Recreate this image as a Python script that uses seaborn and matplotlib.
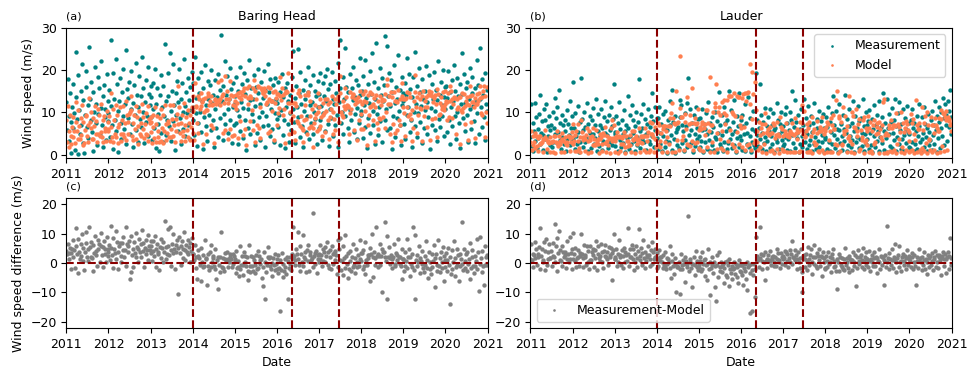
import numpy as np
import pandas as pd
import matplotlib
matplotlib.use("Agg")
import matplotlib.pyplot as plt
import matplotlib.dates as mdates
import seaborn as sns

sns.set_style("ticks", {"axes.edgecolor": "black", "xtick.color": "black", "ytick.color": "black",
                        "text.color": "black", "axes.labelcolor": "black"})
plt.rcParams["font.family"] = ["DejaVu Sans"]
plt.rcParams["font.size"] = 9

TEAL = "#008080"
CORAL = "#FF7F50"
GREY = "#808080"
LINE = "#8B0000"

years = list(range(2011, 2021))
break_dates = ["2014-01-01", "2016-05-10", "2017-06-24"]

# Baring Head, wind speed (m/s), ~60 readings per year
bh_meas = [
    [12.4, 5.8, 17.9, 9.1, 3.2, 14.6, 7.7, 0.4, 11.3, 16.8, 6.2, 9.9, 1.1, 13.7, 24.3, 8.5, 0.2, 18.9, 10.6, 4.9, 15.2, 7.1, 21.4, 2.8, 12.9, 0.3, 9.4, 16.1, 19.8, 6.6, 11.8, 3.9, 25.6, 13.1, 8.2, 17.3, 5.4, 0.9, 14.8, 10.2, 20.7, 7.5, 12.1, 2.2, 18.4, 9.7, 15.9, 4.6, 11.1, 22.3, 6.9, 13.8, 1.7, 16.5, 8.8, 10.9, 3.5, 19.2, 12.6, 7.9],
    [9.8, 15.3, 4.2, 27.1, 11.6, 6.9, 19.4, 1.3, 13.2, 8.1, 22.6, 5.5, 16.7, 10.3, 0.6, 12.8, 18.1, 7.4, 3.6, 14.9, 9.2, 20.3, 6.1, 11.9, 24.8, 2.4, 15.6, 8.7, 13.5, 17.2, 4.8, 10.7, 19.9, 7.3, 12.2, 1.9, 16.4, 9.5, 21.7, 5.9, 14.1, 11.4, 3.1, 18.6, 8.4, 13.9, 6.5, 23.2, 10.1, 15.8, 2.7, 12.5, 17.7, 7.8, 9.1, 20.9, 4.4, 14.3, 11.7, 16.2],
    [8.9, 13.6, 3.4, 17.1, 10.8, 6.3, 20.4, 1.5, 12.1, 15.7, 7.2, 9.6, 0.8, 14.2, 18.8, 5.1, 11.3, 2.9, 16.3, 9.1, 26.2, 12.7, 4.7, 8.3, 19.3, 13.8, 6.8, 24.1, 10.4, 3.3, 15.1, 7.9, 21.6, 11.8, 1.2, 14.6, 9.3, 17.5, 5.6, 12.4, 20.2, 8.6, 13.1, 2.5, 16.9, 10.2, 6.1, 22.8, 11.5, 4.3, 14.9, 9.8, 18.2, 7.1, 12.9, 3.8, 16.1, 10.6, 19.7, 8.2],
    [11.2, 16.9, 4.6, 23.1, 9.8, 13.4, 2.1, 18.2, 7.6, 14.7, 10.1, 5.3, 19.6, 12.8, 1.4, 15.9, 8.9, 21.3, 6.7, 11.7, 3.2, 17.4, 13.1, 9.3, 16.6, 5.8, 20.1, 12.3, 8.1, 14.2, 1.9, 10.7, 17.8, 6.4, 13.6, 19.1, 4.1, 11.9, 15.3, 8.6, 28.4, 12.6, 3.5, 16.2, 9.7, 22.1, 7.2, 14.1, 18.7, 10.9, 5.1, 13.3, 20.6, 8.2, 15.6, 2.8, 11.4, 17.1, 6.9, 12.2],
    [13.9, 7.4, 18.3, 10.5, 2.6, 15.1, 9.2, 20.8, 5.7, 12.4, 16.7, 3.9, 11.1, 19.4, 8.3, 14.4, 1.2, 17.6, 10.8, 6.2, 22.4, 12.9, 4.8, 15.8, 9.6, 13.2, 7.9, 18.9, 2.3, 11.6, 16.1, 5.2, 14.7, 20.3, 8.8, 12.1, 3.4, 17.2, 10.2, 6.8, 13.5, 19.8, 1.7, 15.4, 9.1, 11.9, 21.6, 7.1, 14.9, 4.5, 17.9, 10.7, 6.1, 12.7, 16.4, 2.9, 9.9, 18.1, 13.1, 8.4],
    [12.3, 6.5, 17.2, 9.4, 2.2, 14.8, 10.6, 19.1, 4.7, 13.7, 8.1, 15.9, 1.6, 11.4, 16.9, 7.3, 12.8, 3.1, 9.8, 14.1, 5.9, 18.4, 10.9, 24.6, 7.7, 13.4, 2.7, 16.3, 11.2, 25.1, 8.9, 14.6, 4.2, 19.7, 12.1, 6.8, 15.4, 1.9, 10.4, 17.8, 13.2, 5.4, 9.2, 20.9, 14.9, 3.6, 11.7, 16.6, 7.6, 12.5, 18.9, 4.9, 10.1, 15.1, 8.4, 13.8, 2.4, 17.4, 11.3, 6.3],
    [14.3, 8.2, 19.4, 11.6, 3.4, 17.1, 9.9, 13.8, 18.6, 5.6, 12.7, 20.2, 7.3, 15.5, 2.1, 10.8, 16.8, 8.7, 19.7, 13.1, 4.4, 11.9, 17.4, 6.9, 14.6, 9.3, 21.8, 1.8, 12.4, 27.2, 15.7, 7.6, 10.2, 18.3, 4.9, 13.3, 25.3, 9.1, 16.1, 11.4, 6.2, 14.9, 2.9, 19.1, 10.6, 8.1, 15.8, 12.9, 20.7, 5.3, 13.6, 9.6, 17.7, 3.8, 11.1, 16.4, 7.4, 14.2, 22.9, 10.3],
    [9.4, 15.2, 3.9, 18.7, 11.8, 6.6, 22.4, 13.5, 1.5, 16.8, 8.7, 12.2, 19.9, 5.1, 14.4, 24.2, 10.3, 7.1, 17.3, 2.6, 13.1, 26.4, 9.7, 15.9, 4.6, 11.2, 20.6, 7.9, 14.1, 18.2, 3.1, 12.6, 16.5, 28.1, 8.3, 10.9, 25.7, 5.8, 13.9, 19.3, 11.5, 6.4, 17.6, 1.3, 14.8, 9.2, 21.2, 12.3, 4.2, 16.1, 8.6, 13.3, 23.6, 10.4, 6.9, 15.4, 2.3, 18.4, 11.7, 14.6],
    [12.8, 7.3, 17.1, 3.6, 14.2, 22.9, 9.5, 11.3, 19.2, 5.4, 15.6, 8.1, 13.7, 1.9, 18.4, 10.2, 6.7, 24.4, 12.1, 16.3, 4.1, 9.8, 20.5, 14.9, 7.7, 11.6, 2.8, 17.9, 13.3, 6.2, 15.1, 10.6, 21.1, 4.8, 12.4, 8.9, 18.8, 14.5, 1.4, 11.1, 16.7, 7.1, 13.1, 19.6, 5.9, 10.4, 15.3, 3.3, 12.9, 22.2, 8.4, 14.1, 6.6, 17.3, 11.8, 9.2, 20.1, 4.5, 13.6, 16.1],
    [10.7, 16.2, 5.3, 13.4, 19.8, 8.2, 2.4, 14.9, 11.3, 17.6, 6.8, 12.6, 21.3, 9.1, 15.2, 3.7, 18.1, 10.1, 13.8, 7.4, 16.8, 1.6, 11.9, 24.1, 14.4, 8.7, 19.1, 5.6, 12.2, 15.7, 9.4, 17.2, 3.1, 13.1, 20.6, 10.8, 6.1, 14.6, 18.5, 11.6, 7.9, 15.9, 2.8, 12.7, 22.4, 9.9, 16.6, 4.9, 13.3, 25.2, 11.4, 6.5, 17.9, 14.1, 8.8, 19.4, 3.4, 12.1, 15.4, 10.3],
]
bh_model = [
    [8.3, 2.9, 11.6, 5.7, 1.7, 9.4, 4.4, 2.5, 6.5, 8.9, 4.1, 5.5, 2.7, 7.8, 12.5, 5.5, 3.6, 10.6, 6.7, 3.7, 8.6, 4.7, 11.7, 2.2, 7.8, 2.8, 5.8, 9.2, 9.4, 4.4, 7.1, 3.1, 13.5, 7.8, 6.3, 10.1, 3.8, 3.6, 8.7, 6.7, 11.6, 4.9, 7.9, 3.1, 10.7, 4.8, 9.5, 4.3, 5.3, 12.1, 4.1, 8.3, 3.1, 9.1, 5.7, 6.3, 3.3, 10.4, 7.7, 5.6],
    [6.1, 9.1, 3.3, 14.7, 6.5, 4.2, 10.8, 3.1, 8.3, 4.8, 11.7, 4.1, 9.5, 6.5, 2.8, 7.2, 11.2, 4.9, 3.2, 8.2, 4.9, 11.5, 4.2, 7.4, 12.6, 3.5, 9.3, 4.8, 7.8, 9.6, 10.1, 13.9, 10.6, 4.5, 7.6, 3.4, 9.3, 6.1, 11.6, 3.7, 8.8, 6.7, 2.6, 10.4, 4.8, 7.5, 4.4, 11.9, 6.0, 9.0, 3.9, 7.3, 9.8, 4.8, 4.7, 11.5, 3.3, 8.4, 7.4, 8.9],
    [5.4, 7.8, 2.7, 9.5, 6.6, 3.9, 11.3, 2.9, 7.3, 9.2, 4.1, 5.7, 3.1, 8.7, 10.7, 3.3, 6.3, 2.7, 9.3, 5.5, 11.8, 7.3, 3.4, 5.1, 7.6, 7.9, 4.2, 11.8, 6.0, 4.2, 8.5, 4.5, 11.8, 6.9, 3.1, 8.4, 5.6, 9.7, 16.2, 7.3, 11.3, 5.1, 7.5, 3.3, 9.5, 5.5, 4.5, 12.2, 7.0, 3.3, 8.8, 5.9, 10.5, 4.2, 7.5, 3.4, 9.3, 6.6, 11.2, 5.0],
    [10.4, 13.8, 3.5, 16.9, 11.5, 11.2, 7.4, 13.8, 5.2, 13.1, 10.7, 11.5, 14.5, 12.5, 2.6, 13.2, 10.0, 13.5, 4.9, 10.5, 10.6, 14.5, 14.0, 11.7, 12.8, 7.1, 13.9, 11.8, 6.3, 11.9, 2.8, 12.9, 13.2, 11.9, 12.5, 17.2, 13.0, 12.6, 13.2, 11.7, 17.8, 14.0, 5.2, 14.4, 12.3, 18.6, 5.8, 13.2, 15.0, 12.2, 3.7, 13.1, 17.4, 6.1, 14.1, 4.3, 11.8, 13.9, 4.6, 11.5],
    [12.7, 10.7, 14.2, 12.3, 4.0, 14.5, 13.7, 14.9, 7.9, 13.2, 14.2, 4.6, 15.0, 15.8, 6.0, 14.0, 2.3, 15.7, 13.4, 12.0, 16.3, 13.9, 8.0, 13.5, 10.5, 15.9, 5.8, 17.8, 3.1, 15.1, 13.3, 7.1, 16.3, 16.1, 6.4, 11.2, 3.9, 15.8, 15.3, 14.5, 14.7, 15.9, 13.9, 15.1, 12.0, 12.5, 16.1, 5.2, 13.2, 5.5, 15.7, 12.6, 10.4, 12.6, 14.8, 3.5, 12.2, 15.2, 13.5, 6.9],
    [14.4, 9.9, 14.4, 11.0, 18.4, 13.9, 12.9, 15.7, 9.3, 14.2, 10.9, 14.6, 2.8, 15.1, 14.8, 19.4, 12.2, 4.9, 10.2, 12.2, 8.3, 15.3, 9.1, 12.3, 5.3, 12.3, 3.5, 11.6, 8.0, 14.7, 7.4, 15.3, 6.8, 13.9, 9.2, 6.4, 5.8, 3.0, 8.2, 14.2, 11.8, 8.5, 4.9, 14.8, 14.1, 6.3, 9.1, 12.7, 6.7, 10.8, 1.9, 6.3, 7.6, 11.8, 8.6, 9.7, 5.7, 14.6, 10.1, 6.0],
    [11.2, 6.8, 13.2, 8.9, 4.5, 12.3, 9.3, 9.9, 13.2, 5.4, 10.4, 13.1, 8.1, 11.9, 3.8, 8.9, 12.4, 10.8, 13.9, 10.2, 4.9, 8.5, 13.3, 5.9, 12.0, 13.1, 13.9, 3.1, 7.7, 18.6, 14.6, 10.0, 9.5, 12.7, 8.8, 11.5, 15.9, 10.7, 13.7, 11.7, 11.3, 11.6, 4.8, 14.9, 9.8, 10.9, 13.7, 14.1, 14.3, 5.9, 11.9, 13.1, 13.1, 3.4, 12.5, 13.6, 8.3, 12.7, 15.2, 9.7],
    [6.1, 11.9, 6.1, 14.3, 12.7, 10.3, 15.2, 12.4, 2.3, 14.2, 6.9, 9.4, 14.8, 11.3, 11.5, 14.4, 8.1, 11.9, 13.4, 3.3, 11.3, 14.2, 7.4, 12.8, 6.1, 8.7, 14.0, 8.5, 11.7, 13.3, 12.8, 9.0, 12.9, 14.3, 6.2, 10.1, 16.6, 17.9, 12.0, 13.9, 12.0, 4.8, 14.9, 2.9, 13.6, 7.3, 14.9, 12.6, 5.1, 12.7, 5.9, 12.4, 15.4, 8.2, 7.1, 13.2, 3.3, 13.8, 17.0, 13.2],
    [11.4, 9.9, 13.3, 4.5, 13.5, 14.8, 11.3, 9.1, 14.6, 9.7, 13.7, 8.5, 10.6, 3.2, 6.3, 12.6, 19.0, 14.8, 11.2, 13.6, 5.2, 9.5, 14.7, 13.3, 11.1, 10.8, 3.3, 13.8, 15.0, 9.1, 12.6, 11.3, 13.7, 6.6, 11.3, 14.1, 15.2, 14.1, 3.5, 14.9, 13.8, 8.5, 12.5, 13.4, 14.2, 8.7, 12.1, 4.1, 15.5, 14.3, 9.3, 12.3, 9.7, 13.6, 11.6, 10.8, 14.8, 10.6, 11.3, 15.2],
    [12.0, 12.8, 8.1, 12.5, 14.7, 8.8, 16.3, 12.7, 15.0, 13.3, 8.7, 12.1, 13.7, 13.5, 13.4, 4.9, 13.2, 10.9, 11.2, 13.6, 13.7, 2.5, 10.5, 10.2, 14.7, 11.0, 14.4, 7.2, 11.6, 12.8, 12.1, 13.6, 3.5, 11.8, 13.8, 16.2, 7.8, 12.5, 14.1, 12.5, 11.2, 13.5, 3.9, 11.9, 14.3, 12.1, 12.8, 14.5, 13.5, 16.3, 9.8, 9.4, 13.7, 15.2, 16.2, 13.8, 4.1, 10.2, 16.0, 7.6],
]

# Lauder, wind speed (m/s)
la_meas = [
    [4.2, 11.9, 2.1, 7.4, 0.8, 5.6, 12.3, 3.3, 8.9, 1.5, 6.1, 3.9, 9.7, 14.2, 2.6, 5.1, 7.9, 1.1, 4.7, 10.8, 3.6, 8.3, 12.1, 0.6, 6.7, 4.4, 9.2, 2.3, 5.9, 7.1, 1.8, 10.2, 3.1, 6.4, 13.4, 4.9, 8.6, 2.8, 11.4, 5.3, 15.4, 3.4, 7.6, 1.3, 9.4, 4.1, 6.9, 2.4, 8.1, 5.7, 0.9, 10.5, 3.8, 7.2, 4.6, 12.8, 2.2, 6.3, 9.1, 3.2],
    [3.7, 17.3, 6.2, 1.4, 9.8, 4.3, 2.6, 11.6, 5.4, 0.7, 7.7, 3.1, 18.2, 8.4, 1.9, 5.8, 10.1, 2.9, 6.6, 4.1, 12.2, 0.9, 7.3, 3.5, 9.1, 5.2, 1.6, 8.2, 4.8, 11.1, 2.4, 6.9, 3.9, 13.1, 0.8, 5.5, 9.6, 2.1, 7.1, 4.4, 10.7, 1.2, 6.3, 3.3, 8.8, 5.1, 12.7, 2.7, 7.9, 4.6, 1.5, 9.3, 5.9, 3.0, 11.4, 6.7, 2.3, 8.5, 16.7, 4.9],
    [5.3, 2.1, 9.1, 4.2, 0.9, 7.4, 12.4, 3.4, 6.1, 1.7, 8.3, 4.9, 2.8, 10.6, 5.7, 0.6, 7.1, 3.9, 13.8, 6.4, 1.4, 9.3, 4.5, 2.5, 11.8, 5.1, 8.1, 3.2, 0.8, 6.8, 10.1, 4.1, 2.2, 7.7, 17.9, 5.5, 1.5, 9.7, 3.6, 6.3, 12.1, 2.9, 8.4, 4.7, 1.1, 7.2, 5.2, 10.9, 3.3, 6.6, 2.6, 9.2, 4.4, 14.6, 7.9, 1.9, 5.9, 11.3, 3.7, 8.7],
    [3.9, 8.7, 1.4, 11.2, 5.1, 2.6, 7.3, 0.9, 9.6, 4.4, 6.2, 1.8, 10.4, 3.3, 5.8, 0.4, 8.1, 2.9, 6.9, 12.6, 4.7, 1.2, 15.4, 7.7, 3.6, 0.3, 9.1, 5.4, 2.3, 6.0, 6.5, 1.6, 8.9, 13.0, 11.7, 2.7, 7.1, 5.6, 0.8, 9.9, 3.4, 6.8, 12.3, 1.9, 18.1, 4.6, 2.4, 10.8, 5.9, 3.1, 7.6, 0.7, 9.3, 4.8, 2.1, 11.4, 6.3, 3.7, 8.4, 1.3],
    [4.5, 1.7, 8.6, 3.2, 10.9, 5.8, 0.6, 7.2, 2.9, 6.1, 9.8, 1.3, 4.9, 12.4, 3.5, 7.6, 0.9, 5.3, 2.2, 8.8, 6.6, 1.1, 4.1, 10.2, 3.8, 0.7, 7.9, 5.1, 14.9, 2.5, 6.9, 1.9, 9.4, 4.6, 0.8, 11.3, 3.1, 7.4, 5.6, 1.4, 8.3, 2.7, 15.1, 6.2, 3.6, 10.6, 1.6, 4.8, 7.8, 2.3, 12.9, 5.5, 0.5, 9.1, 3.9, 6.7, 1.8, 14.6, 4.3, 8.1],
    [3.4, 9.3, 1.2, 6.7, 4.8, 11.9, 0.8, 7.5, 2.6, 5.2, 13.7, 1.7, 4.3, 8.6, 0.6, 6.1, 3.1, 10.4, 2.2, 5.7, 1.5, 19.4, 4.7, 8.1, 2.1, 6.4, 16.8, 3.6, 9.5, 1.4, 5.1, 7.8, 2.8, 11.1, 4.2, 0.9, 6.8, 3.3, 8.9, 5.5, 1.6, 10.7, 4.4, 7.1, 2.4, 9.8, 5.9, 0.7, 6.2, 3.8, 12.3, 2.9, 8.2, 4.9, 1.3, 7.3, 10.1, 3.5, 5.6, 2.1],
    [6.8, 2.4, 9.7, 4.1, 11.3, 1.1, 7.4, 3.6, 5.9, 10.1, 0.9, 8.2, 15.2, 4.6, 2.8, 6.5, 12.9, 1.6, 7.8, 3.9, 5.2, 9.3, 0.7, 6.1, 2.6, 10.8, 4.4, 1.9, 7.1, 13.1, 3.1, 5.6, 8.7, 1.3, 4.8, 11.6, 2.2, 6.9, 3.4, 9.1, 0.8, 5.3, 7.5, 2.5, 12.2, 4.1, 1.4, 8.4, 6.2, 3.2, 10.3, 1.7, 5.7, 7.9, 2.9, 4.6, 9.6, 0.6, 6.4, 3.7],
    [4.2, 8.9, 1.3, 6.5, 11.2, 3.1, 7.7, 0.8, 5.4, 9.8, 2.4, 13.9, 4.7, 6.9, 1.6, 10.4, 3.7, 6.1, 0.6, 5.9, 12.1, 2.8, 7.2, 4.3, 1.1, 9.4, 6.1, 3.3, 14.2, 5.1, 0.9, 8.4, 2.2, 6.7, 10.9, 4.5, 1.7, 7.6, 3.4, 12.7, 5.7, 0.7, 9.1, 2.9, 6.3, 4.1, 11.6, 1.5, 7.9, 3.6, 8.6, 2.1, 5.2, 13.3, 0.9, 6.8, 4.9, 10.2, 2.6, 7.1],
    [3.6, 7.9, 1.4, 10.6, 5.2, 2.3, 8.4, 0.7, 6.1, 4.4, 11.8, 1.8, 7.1, 3.2, 9.3, 5.7, 0.9, 12.6, 4.1, 6.6, 2.7, 8.8, 14.5, 1.2, 5.5, 7.4, 3.9, 13.2, 0.6, 6.3, 4.8, 9.6, 2.1, 7.7, 1.5, 11.1, 5.1, 3.4, 8.2, 13.1, 0.8, 6.7, 4.2, 9.9, 2.4, 12.4, 5.8, 1.3, 7.3, 3.7, 10.7, 4.6, 0.9, 8.7, 6.1, 2.8, 11.6, 5.3, 1.7, 7.6],
    [4.9, 1.6, 8.3, 3.1, 10.9, 6.2, 0.8, 7.4, 2.5, 5.6, 9.2, 1.3, 4.4, 12.1, 6.8, 2.9, 0.6, 8.8, 3.7, 5.1, 11.4, 1.9, 7.2, 4.1, 0.9, 6.4, 9.7, 2.2, 5.3, 3.4, 8.1, 1.1, 10.3, 4.7, 6.9, 2.6, 12.8, 5.8, 0.7, 9.1, 3.9, 7.7, 11.2, 1.5, 6.3, 10.1, 4.4, 13.4, 8.6, 2.3, 11.9, 7.1, 9.4, 3.2, 12.6, 6.6, 10.4, 15.3, 4.8, 8.9],
]
la_model = [
    [2.9, 5.5, 1.2, 4.3, 2.2, 2.9, 5.2, 1.5, 4.3, 2.1, 3.9, 0.8, 4.4, 2.4, 4.5, 2.7, 3.1, 0.7, 3.6, 3.6, 5.9, 4.2, 3.8, 1.4, 3.1, 3.2, 2.7, 0.7, 4.1, 2.9, 2.9, 3.3, 0.7, 4.3, 0.3, 4.4, 2.9, 5.6, 2.8, 2.0, 4.5, 2.5, 3.2, 0.5, 3.8, 5.0, 3.2, 0.5, 4.2, 3.1, 2.5, 3.1, 2.3, 4.3, 4.3, 4.0, 0.8, 2.9, 4.2, 5.3],
    [2.5, 7.2, 3.3, 0.8, 4.7, 5.7, 0.8, 7.2, 3.2, 1.6, 4.2, 0.7, 8.3, 5.3, 3.4, 4.1, 3.9, 0.8, 3.8, 4.7, 6.3, 0.4, 3.2, 5.7, 3.5, 4.1, 0.7, 4.4, 2.2, 6.4, 3.6, 2.5, 2.3, 5.8, 3.2, 2.6, 3.8, 0.4, 4.8, 3.6, 4.1, 0.8, 2.4, 5.1, 4.6, 2.8, 6.6, 0.5, 4.3, 3.2, 2.2, 3.9, 4.0, 0.4, 6.2, 3.3, 8.2, 4.0, 6.9, 3.6],
    [3.2, 0.7, 4.3, 5.3, 0.4, 4.2, 4.5, 0.8, 4.2, 2.5, 3.9, 2.6, 4.4, 5.4, 1.9, 0.4, 4.5, 3.2, 2.0, 3.3, 2.3, 4.6, 2.3, 0.6, 5.7, 3.8, 3.5, 5.6, 0.4, 3.9, 4.4, 2.5, 3.5, 3.6, 6.2, 3.1, 0.6, 4.5, 4.2, 2.8, 4.3, 1.1, 4.5, 6.4, 0.5, 4.4, 3.3, 5.3, 0.6, 7.7, 1.1, 4.9, 4.8, 7.5, 4.2, 0.6, 3.8, 6.5, 1.8, 5.3],
    [5.7, 7.5, 2.3, 6.9, 3.2, 1.9, 5.1, 0.7, 6.8, 6.0, 6.8, 3.1, 6.7, 5.5, 4.2, 0.7, 6.7, 2.5, 8.6, 6.8, 9.8, 0.6, 12.3, 8.6, 7.4, 0.5, 7.3, 15.1, 3.4, 7.4, 7.8, 1.1, 11.0, 23.5, 8.8, 3.5, 9.0, 4.5, 1.2, 7.8, 9.7, 6.0, 13.7, 2.4, 2.2, 7.3, 2.1, 9.4, 7.5, 3.3, 15.7, 1.2, 7.4, 8.7, 2.8, 7.2, 7.5, 3.1, 10.8, 1.6],
    [5.9, 1.1, 6.5, 6.0, 7.3, 7.7, 0.8, 6.3, 7.2, 4.7, 10.5, 1.7, 10.5, 7.6, 5.6, 18.3, 0.6, 6.9, 3.0, 6.9, 10.0, 0.6, 12.3, 11.3, 16.7, 1.3, 5.1, 10.0, 11.2, 3.8, 9.5, 1.5, 12.5, 5.5, 1.2, 13.0, 9.8, 7.2, 9.5, 0.7, 12.9, 3.3, 13.9, 14.0, 5.8, 14.0, 2.5, 10.1, 9.7, 1.9, 14.7, 9.1, 0.8, 14.0, 5.3, 13.6, 2.6, 13.7, 6.9, 8.8],
    [6.3, 13.4, 1.8, 14.3, 6.6, 14.6, 1.2, 12.8, 2.3, 14.5, 14.9, 2.5, 21.4, 12.0, 1.0, 8.4, 19.5, 14.3, 2.7, 17.3, 3.4, 10.5, 3.1, 5.7, 1.2, 7.7, 4.7, 1.8, 6.3, 0.7, 7.3, 5.2, 2.4, 7.2, 9.9, 0.3, 5.4, 5.0, 6.1, 4.6, 0.8, 6.6, 5.0, 5.2, 1.1, 7.4, 7.0, 0.4, 4.0, 4.7, 7.7, 1.4, 4.9, 4.5, 0.4, 8.9, 6.6, 1.4, 6.1, 0.9],
    [4.5, 0.8, 5.6, 4.8, 7.5, 0.5, 4.5, 4.8, 4.2, 5.7, 0.5, 5.1, 7.6, 4.9, 0.7, 4.7, 8.6, 0.7, 5.2, 6.0, 3.8, 5.4, 0.5, 7.7, 0.8, 5.9, 7.5, 11.7, 4.8, 10.4, 4.4, 4.2, 5.5, 0.6, 7.2, 6.3, 0.7, 7.7, 0.8, 4.4, 0.3, 8.9, 5.4, 2.9, 6.1, 2.2, 2.5, 5.0, 8.0, 0.8, 5.5, 0.6, 6.6, 5.6, 1.0, 9.0, 6.0, 0.4, 4.8, 5.6],
    [6.0, 6.5, 0.7, 7.7, 7.3, 3.5, 5.6, 0.5, 8.6, 6.9, 0.7, 9.3, 6.1, 6.1, 2.5, 13.0, 2.2, 15.0, 0.4, 8.7, 9.2, 0.9, 7.8, 2.6, 2.3, 11.3, 4.8, 5.7, 9.1, 5.8, 0.5, 6.8, 4.0, 4.4, 14.0, 3.3, 0.6, 10.0, 2.5, 9.1, 6.6, 0.4, 6.3, 10.7, 4.4, 5.7, 7.3, 0.8, 8.4, 1.4, 5.9, 3.5, 4.1, 8.1, 0.3, 8.9, 3.0, 6.4, 3.4, 5.7],
    [2.2, 9.2, 0.6, 6.4, 7.8, 0.8, 5.7, 0.4, 7.0, 2.6, 8.2, 2.9, 4.9, 6.6, 7.6, 5.1, 0.4, 7.7, 6.0, 4.2, 3.4, 6.9, 12.4, 0.3, 13.1, 4.6, 5.1, 0.7, 0.4, 4.7, 6.9, 6.2, 0.8, 8.3, 0.6, 6.4, 6.9, 1.2, 7.1, 6.8, 0.3, 9.8, 2.5, 7.3, 3.8, 6.5, 5.4, 0.5, 10.0, 1.8, 7.6, 5.4, 0.3, 6.3, 8.0, 1.2, 7.2, 5.9, 0.5, 5.3],
    [3.2, 0.8, 9.7, 1.2, 7.6, 8.4, 0.4, 4.8, 3.4, 13.0, 7.1, 0.5, 6.0, 7.5, 6.1, 1.1, 0.3, 11.2, 1.5, 5.9, 7.5, 0.8, 9.1, 2.7, 0.4, 10.0, 7.0, 3.4, 3.7, 1.1, 8.8, 0.5, 6.9, 7.0, 5.0, 1.1, 8.7, 7.1, 0.3, 6.3, 5.6, 5.6, 8.6, 0.6, 10.5, 8.4, 2.0, 9.8, 9.7, 0.9, 9.0, 10.4, 8.2, 1.1, 8.8, 8.5, 8.0, 6.9, 5.5, 7.3],
]


def site_frame(meas, model):
    parts = []
    for yr, m, o in zip(years, meas, model):
        t = pd.date_range(f"{yr}-01-01", f"{yr}-12-31", periods=len(m))
        parts.append(pd.DataFrame({"date": t, "meas": m, "model": o}))
    df = pd.concat(parts, ignore_index=True)
    df["diff"] = df["meas"] - df["model"]
    return df


sites = [("Baring Head", site_frame(bh_meas, bh_model)),
         ("Lauder", site_frame(la_meas, la_model))]

fig, axes = plt.subplots(2, 2, figsize=(9.76, 3.76), dpi=100)
fig.subplots_adjust(left=0.068, right=0.975, top=0.925, bottom=0.128, wspace=0.102, hspace=0.31)

DOT = 10
letters = [["(a)", "(b)"], ["(c)", "(d)"]]
for j, (name, df) in enumerate(sites):
    ax = axes[0, j]
    sns.scatterplot(data=df, x="date", y="meas", color=TEAL, s=DOT, linewidth=0, ax=ax, label="Measurement")
    sns.scatterplot(data=df, x="date", y="model", color=CORAL, s=DOT, linewidth=0, ax=ax, label="Model")
    ax.set_ylim(-0.8, 30)
    ax.set_yticks([0, 10, 20, 30])
    ax.set_title(name, fontsize=9)

    axd = axes[1, j]
    sns.scatterplot(data=df, x="date", y="diff", color=GREY, s=DOT, linewidth=0, ax=axd,
                    label="Measurement-Model")
    axd.axhline(0, color=LINE, ls="--", lw=1.5)
    axd.set_ylim(-22, 22)
    axd.set_yticks([-20, -10, 0, 10, 20])
    axd.set_xlabel("Date", fontsize=9)

    for i, a in enumerate([ax, axd]):
        for d in break_dates:
            a.axvline(pd.Timestamp(d), color=LINE, ls="--", lw=1.5)
        a.set_xlim(pd.Timestamp("2011-01-01"), pd.Timestamp("2021-01-01"))
        a.xaxis.set_major_locator(mdates.YearLocator())
        a.xaxis.set_major_formatter(mdates.DateFormatter("%Y"))
        a.tick_params(labelsize=9)
        a.set_title(letters[i][j], loc="left", fontsize=8)
        if a.get_legend() is not None:
            a.get_legend().remove()
    ax.set_xlabel("")
    ax.set_ylabel("")
    axd.set_ylabel("")

axes[0, 0].set_ylabel("Wind speed (m/s)", fontsize=9)
axes[1, 0].set_ylabel("Wind speed difference (m/s)", fontsize=9)
axes[0, 1].legend(loc="upper right", fontsize=9, markerscale=0.6)
axes[1, 1].legend(loc="lower left", fontsize=9, markerscale=0.6)

fig.savefig("out.png", dpi=100)
